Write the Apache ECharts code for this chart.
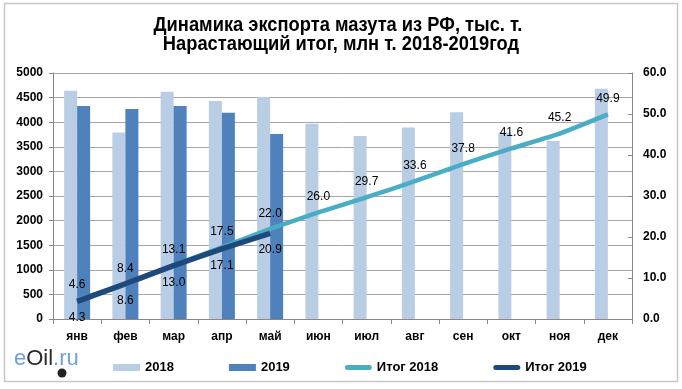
<!DOCTYPE html>
<html><head><meta charset="utf-8">
<script src="https://cdn.jsdelivr.net/npm/echarts@6/dist/echarts.min.js"></script>
<style>html,body{margin:0;padding:0;background:#fff}#c{width:682px;height:389px}</style>
</head><body><div id="c"></div>
<script>
const categories = ['янв','фев','мар','апр','май','июн','июл','авг','сен','окт','ноя','дек'];
const export2018 = [4640, 3790, 4620, 4430, 4510, 3970, 3720, 3890, 4200, 3790, 3620, 4680];
const export2019 = [4330, 4270, 4330, 4190, 3760];
const total2018 = [4.6, 8.4, 13.1, 17.5, 22.0, 26.0, 29.7, 33.6, 37.8, 41.6, 45.2, 49.9];
const total2019 = [4.3, 8.6, 13.0, 17.1, 20.9];
const leftTicks = {min: 0, max: 5000, interval: 500};
const rightTicks = {min: 0, max: 60, interval: 10};

const chart = echarts.init(document.getElementById('c'), null, {renderer: 'canvas'});
const lblFont = {fontFamily: 'Arial, "Liberation Sans", sans-serif', fontSize: 12, color: '#000'};
const titleStyle = {fontFamily: 'Arial, "Liberation Sans", sans-serif', fontSize: 20, fontWeight: 'bold', fill: '#000', align: 'center', verticalAlign: 'middle', x: 0, y: 0};
const lineIcon = 'path://M2.5,0 H24.5 A2.5,2.5 0 0 1 24.5,5 H2.5 A2.5,2.5 0 0 1 2.5,0 Z';
chart.setOption({
  animation: false,
  backgroundColor: '#fff',
  graphic: [
    {type: 'rect', shape: {x: 4.5, y: 3.5, width: 673, height: 378}, style: {fill: 'none', stroke: '#c8c8c8', lineWidth: 1.5}, silent: true, z: -1},
    {type: 'text', x: 338, y: 25, scaleX: 0.915, style: Object.assign({text: 'Динамика экспорта мазута из РФ, тыс. т.'}, titleStyle)},
    {type: 'text', x: 341, y: 44.5, scaleX: 0.915, style: Object.assign({text: 'Нарастающий итог, млн т. 2018-2019год'}, titleStyle)},
    {type: 'text', left: 14, top: 348, style: {
      text: '{a|e}{b|Oil}{a|.ru}',
      rich: {a: {fontFamily: 'Arial, sans-serif', fontSize: 22, fill: '#6fa0d6'}, b: {fontFamily: 'Arial, sans-serif', fontSize: 22, fill: '#2b2b2b'}}
    }},
    {type: 'circle', shape: {cx: 62, cy: 373, r: 4.5}, style: {fill: '#222'}}
  ],
  legend: {
    left: 108, top: 356, itemGap: 55, itemWidth: 27, itemHeight: 7,
    textStyle: {fontFamily: 'Arial, "Liberation Sans", sans-serif', fontSize: 13, fontWeight: 'bold', color: '#000'},
    data: [
      {name: '2018', icon: 'rect'},
      {name: '2019', icon: 'rect'},
      {name: 'Итог 2018', icon: lineIcon},
      {name: 'Итог 2019', icon: lineIcon}
    ]
  },
  grid: {left: 53, right: 50, top: 73, bottom: 70, containLabel: false},
  xAxis: {
    type: 'category', data: categories,
    axisLine: {lineStyle: {color: '#888'}},
    axisTick: {show: true, alignWithLabel: false, length: 5, lineStyle: {color: '#888'}},
    axisLabel: Object.assign({margin: 12, fontWeight: 'bold'}, lblFont)
  },
  yAxis: [
    {type: 'value', min: leftTicks.min, max: leftTicks.max, interval: leftTicks.interval,
     axisLine: {show: true, lineStyle: {color: '#888'}},
     axisTick: {show: true, length: 4, lineStyle: {color: '#888'}},
     axisLabel: Object.assign({margin: 10, fontWeight: 'bold', formatter: v => String(v)}, lblFont),
     splitLine: {show: true, lineStyle: {color: '#a6a6a6', width: 1}}},
    {type: 'value', min: rightTicks.min, max: rightTicks.max, interval: rightTicks.interval,
     axisLine: {show: true, lineStyle: {color: '#888'}},
     axisTick: {show: true, inside: true, length: 4, lineStyle: {color: '#888'}},
     axisLabel: Object.assign({margin: 11, fontWeight: 'bold', formatter: v => v.toFixed(1)}, lblFont),
     splitLine: {show: false}}
  ],
  series: [
    {name: '2018', type: 'bar', data: export2018, barWidth: 13, barGap: '0%', itemStyle: {color: '#b9cde5'}},
    {name: '2019', type: 'bar', data: export2019, barWidth: 13, barGap: '0%', itemStyle: {color: '#4f81bd'}},
    {name: 'Итог 2018', type: 'line', yAxisIndex: 1, data: total2018, symbol: 'circle', symbolSize: 1, showSymbol: true, smooth: 0.15,
     lineStyle: {color: '#4bacc6', width: 4.5}, itemStyle: {color: '#4bacc6'},
     label: Object.assign({show: true, position: 'top', distance: 9, formatter: p => p.value.toFixed(1)}, lblFont), z: 3},
    {name: 'Итог 2019', type: 'line', yAxisIndex: 1, data: total2019, symbol: 'circle', symbolSize: 1, showSymbol: true, smooth: 0.15,
     lineStyle: {color: '#1f497d', width: 5.5}, itemStyle: {color: '#1f497d'},
     label: Object.assign({show: true, position: 'bottom', distance: 10, formatter: p => p.value.toFixed(1)}, lblFont), z: 4}
  ]
});
</script></body></html>
